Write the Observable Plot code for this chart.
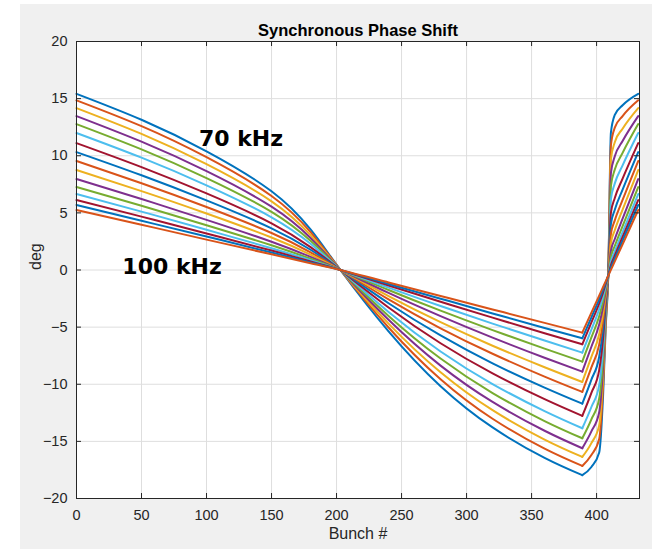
<!DOCTYPE html>
<html><head><meta charset="utf-8">
<script src="https://cdn.jsdelivr.net/npm/d3@7"></script>
<script src="https://cdn.jsdelivr.net/npm/@observablehq/plot@0.6"></script>
<style>
html,body{margin:0;padding:0;background:#fff;}
#bg{position:absolute;left:20px;top:4px;width:632px;height:545px;background:#f0f0f0;}
#chart{position:absolute;left:0;top:0;}
</style></head><body>
<div id="bg"></div><div id="chart"></div>
<script>
// Bunch positions at which the curves were read (first 11 = train, rest = gap)
const bunch = [0, 50, 100, 150, 180, 203, 240, 280, 320, 360, 389, 396, 402, 405, 407, 409, 411, 414, 420, 432];
const freqKHz = [70, 72, 74, 76, 78, 80, 82, 84, 86, 88, 90, 92, 94, 96, 98, 100];

// Synchronous phase (deg) per curve
const f70  = [15.42, 13.15, 10.39, 6.89, 3.55, 0, -5.37, -10.17, -13.78, -16.45, -17.96, -17.24, -15.98, -10.96, -5.03, -0.30, 12.00, 13.57, 14.42, 15.42];
const f72  = [14.85, 12.59, 9.87, 6.48, 3.32, 0, -5.03, -9.56, -13.02, -15.64, -17.15, -16.19, -14.80, -10.14, -4.70, -0.31, 10.91, 12.46, 13.47, 14.85];
const f74  = [14.17, 11.91, 9.26, 6.01, 3.05, 0, -4.69, -8.95, -12.27, -14.84, -16.36, -15.15, -13.60, -9.29, -4.38, -0.32, 9.68, 11.19, 12.37, 14.17];
const f76  = [13.47, 11.23, 8.65, 5.54, 2.80, 0, -4.36, -8.37, -11.55, -14.07, -15.60, -14.13, -12.45, -8.50, -4.07, -0.33, 8.47, 9.95, 11.29, 13.47];
const f78  = [12.77, 10.56, 8.05, 5.09, 2.55, 0, -4.02, -7.75, -10.77, -13.22, -14.73, -13.07, -11.25, -7.69, -3.74, -0.34, 7.34, 8.79, 10.25, 12.77];
const f80  = [11.99, 9.83, 7.41, 4.61, 2.29, 0, -3.67, -7.13, -9.98, -12.35, -13.85, -11.99, -10.08, -6.87, -3.41, -0.36, 6.19, 7.58, 9.16, 11.99];
const f82  = [11.11, 9.01, 6.70, 4.09, 2.00, 0, -3.28, -6.41, -9.05, -11.31, -12.77, -10.75, -8.76, -5.96, -3.04, -0.37, 4.99, 6.31, 8.00, 11.11];
const f84  = [10.32, 8.29, 6.09, 3.65, 1.77, 0, -2.91, -5.73, -8.17, -10.29, -11.70, -9.59, -7.59, -5.16, -2.69, -0.39, 4.01, 5.28, 7.03, 10.32];
const f86  = [9.54, 7.59, 5.51, 3.24, 1.55, 0, -2.57, -5.10, -7.33, -9.33, -10.67, -8.53, -6.53, -4.43, -2.37, -0.40, 3.14, 4.34, 6.13, 9.54];
const f88  = [8.75, 6.90, 4.94, 2.84, 1.34, 0, -2.29, -4.57, -6.63, -8.51, -9.80, -7.61, -5.63, -3.80, -2.10, -0.42, 2.35, 3.48, 5.28, 8.75];
const f90  = [7.96, 6.21, 4.39, 2.47, 1.15, 0, -2.01, -4.04, -5.92, -7.68, -8.90, -6.72, -4.78, -3.22, -1.84, -0.43, 1.66, 2.71, 4.49, 7.96];
const f92  = [7.26, 5.62, 3.92, 2.16, 0.99, 0, -1.75, -3.56, -5.26, -6.88, -8.02, -5.90, -4.04, -2.72, -1.60, -0.44, 1.13, 2.11, 3.84, 7.26];
const f94  = [6.65, 5.11, 3.52, 1.91, 0.86, 0, -1.54, -3.15, -4.69, -6.17, -7.23, -5.21, -3.43, -2.31, -1.40, -0.45, 0.72, 1.64, 3.32, 6.65];
const f96  = [6.12, 4.67, 3.19, 1.70, 0.75, 0, -1.35, -2.78, -4.17, -5.53, -6.50, -4.58, -2.93, -1.96, -1.23, -0.46, 0.42, 1.27, 2.89, 6.12];
const f98  = [5.69, 4.31, 2.93, 1.53, 0.67, 0, -1.22, -2.51, -3.80, -5.07, -5.98, -4.14, -2.57, -1.72, -1.10, -0.47, 0.20, 1.01, 2.57, 5.69];
const f100 = [5.25, 3.96, 2.66, 1.37, 0.59, 0, -1.09, -2.27, -3.45, -4.63, -5.48, -3.73, -2.24, -1.49, -0.99, -0.49, 0.01, 0.76, 2.25, 5.25];

const series = [f70, f72, f74, f76, f78, f80, f82, f84, f86, f88, f90, f92, f94, f96, f98, f100];
const palette = ["#0072BD", "#D95319", "#EDB120", "#7E2F8E", "#77AC30", "#4DBEEE", "#A2142F"];

const xTicks = [0, 50, 100, 150, 200, 250, 300, 350, 400];
const yTicks = [-20, -15, -10, -5, 0, 5, 10, 15, 20];

const annText = ["70 kHz", "100 kHz"];
const annX = [126.5, 73.5];
const annY = [11.5, 0.3];

const ink = "#262626";
const gapStart = 10; // index of bunch 389
const lineMarks = series.flatMap((arr, k) => {
  const rows = bunch.map((b, i) => ({b, v: arr[i], f: freqKHz[k], i}));
  const col = palette[k % palette.length];
  return [
    Plot.line(rows.filter(d => d.i <= gapStart), {x: "b", y: "v", stroke: col, strokeWidth: 2, curve: "natural"}),
    Plot.line(rows.filter(d => d.i >= gapStart), {x: "b", y: "v", stroke: col, strokeWidth: 2, curve: "monotone-x"})
  ];
});

const chart = Plot.plot({
  width: 656, height: 549,
  marginLeft: 76, marginRight: 17, marginTop: 41, marginBottom: 51,
  style: {fontFamily: "'Liberation Sans', Arial, sans-serif", fontSize: "14.5px", background: "transparent", color: ink},
  x: {domain: [0, 433], ticks: xTicks, tickSize: 0, tickPadding: 11, label: null},
  y: {domain: [-20, 20], ticks: yTicks, tickSize: 0, tickPadding: 9, label: null},
  marks: [
    Plot.frame({fill: "white", stroke: null}),
    Plot.ruleX(xTicks, {stroke: "#dedede", strokeWidth: 1}),
    Plot.ruleY(yTicks, {stroke: "#dedede", strokeWidth: 1}),
    ...lineMarks,
    Plot.tickX(xTicks, {x: d => d, stroke: ink, insetTop: 452}),
    Plot.tickX(xTicks, {x: d => d, stroke: ink, insetBottom: 452}),
    Plot.tickY(yTicks, {y: d => d, stroke: ink, insetRight: 558}),
    Plot.tickY(yTicks, {y: d => d, stroke: ink, insetLeft: 558}),
    Plot.frame({stroke: ink, strokeWidth: 1}),
    Plot.text(annText, {x: (d, i) => annX[i], y: (d, i) => annY[i], text: d => d, fontFamily: "'DejaVu Sans', sans-serif", fontWeight: "bold", fontSize: 22, fill: "black"}),
    Plot.text(["Synchronous Phase Shift"], {frameAnchor: "top", dy: -17, fontWeight: "bold", fontSize: 16.5, fill: "black"}),
    Plot.text(["Bunch #"], {frameAnchor: "bottom", dy: 40, fontSize: 16, fill: ink}),
    Plot.text(["deg"], {frameAnchor: "left", dx: -41, rotate: -90, fontSize: 16, fill: ink})
  ]
});
document.getElementById("chart").appendChild(chart);
</script>
</body></html>
